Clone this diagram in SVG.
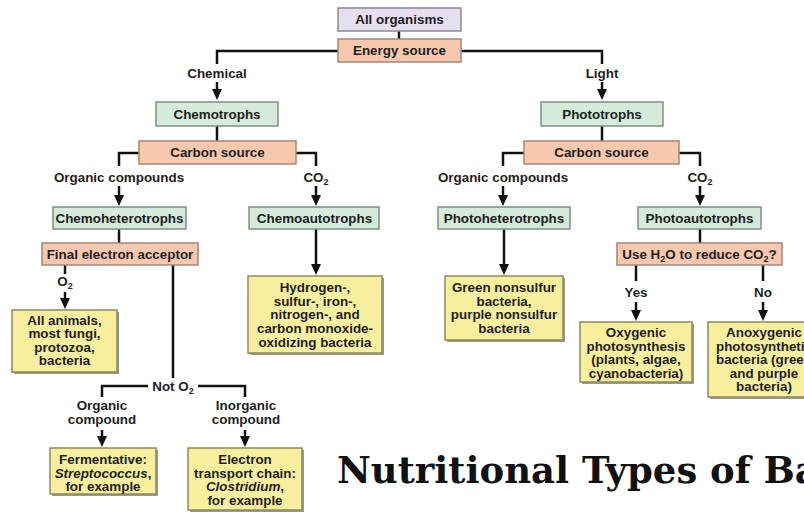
<svg xmlns="http://www.w3.org/2000/svg" width="804" height="512" viewBox="0 0 804 512">
<style>
text{font-family:"Liberation Sans",Arial,sans-serif;font-weight:bold;font-size:13.4px;fill:#1e1e1e;text-anchor:middle}
.sub{font-size:9px}
.lav{fill:#e5dfef;stroke:#8a8794;stroke-width:1.5}
.sal{fill:#f6c8ae;stroke:#a98474;stroke-width:1.5}
.grn{fill:#d4eadb;stroke:#7f8f86;stroke-width:1.5}
.yel{fill:#f7ef9e;stroke:#8c8a5c;stroke-width:1.5}
.shd{fill:#9c9a8e}
.ln{fill:none;stroke:#111;stroke-width:2.5}
.title{font-family:"DejaVu Serif","Liberation Serif",serif;font-size:37px;text-anchor:start;fill:#111}
</style>
<defs>
<marker id="ah" viewBox="0 0 11 10" refX="3" refY="5" markerWidth="11" markerHeight="10" markerUnits="userSpaceOnUse" orient="auto">
<path d="M0,0 L11,5 L0,10 z" fill="#111"/>
</marker>
</defs>
<rect width="804" height="512" fill="#ffffff"/>
<g id="connectors">
<path class="ln" d="M399,31 V39"/>
<path class="ln" d="M338,51 H217 V64"/>
<path class="ln" d="M461,51 H602 V64"/>
<path class="ln" d="M217,82 V92" marker-end="url(#ah)"/>
<path class="ln" d="M602,82 V92" marker-end="url(#ah)"/>
<path class="ln" d="M217,126 V141"/>
<path class="ln" d="M602,126 V141"/>
<path class="ln" d="M139,153 H119 V166"/>
<path class="ln" d="M296,153 H316 V166"/>
<path class="ln" d="M524,153 H503 V166"/>
<path class="ln" d="M679,153 H700 V166"/>
<path class="ln" d="M119,186 V198" marker-end="url(#ah)"/>
<path class="ln" d="M316,186 V198" marker-end="url(#ah)"/>
<path class="ln" d="M503,186 V198" marker-end="url(#ah)"/>
<path class="ln" d="M700,186 V198" marker-end="url(#ah)"/>
<path class="ln" d="M119,229 V243"/>
<path class="ln" d="M700,229 V243"/>
<path class="ln" d="M65,265 V274"/>
<path class="ln" d="M65,292 V301" marker-end="url(#ah)"/>
<path class="ln" d="M173,265 V378"/>
<path class="ln" d="M148,386 H102 V397"/>
<path class="ln" d="M198,386 H245 V397"/>
<path class="ln" d="M102,430 V439" marker-end="url(#ah)"/>
<path class="ln" d="M245,430 V439" marker-end="url(#ah)"/>
<path class="ln" d="M316,229 V267" marker-end="url(#ah)"/>
<path class="ln" d="M504,229 V267" marker-end="url(#ah)"/>
<path class="ln" d="M636,265 V281"/>
<path class="ln" d="M636,302 V313" marker-end="url(#ah)"/>
<path class="ln" d="M763,265 V281"/>
<path class="ln" d="M763,302 V313" marker-end="url(#ah)"/>
<text x="217" y="77.5">Chemical</text>
<text x="602" y="77.5">Light</text>
<text x="119" y="181.5">Organic compounds</text>
<text x="316" y="181.5">CO<tspan class="sub" dy="3">2</tspan></text>
<text x="503" y="181.5">Organic compounds</text>
<text x="700" y="181.5">CO<tspan class="sub" dy="3">2</tspan></text>
<text x="65" y="286">O<tspan class="sub" dy="3">2</tspan></text>
<text x="636" y="296.5">Yes</text>
<text x="763" y="296.5">No</text>
<text x="173" y="391">Not O<tspan class="sub" dy="3">2</tspan></text>
<text x="102" y="410">Organic</text>
<text x="102" y="424">compound</text>
<text x="246" y="410">Inorganic</text>
<text x="246" y="424">compound</text>
</g>
<g id="all-organisms"><rect class="lav" x="338" y="8" width="123" height="23"/><text x="399.5" y="24">All organisms</text></g>
<g id="energy-source"><rect class="sal" x="338" y="39" width="123" height="23"/><text x="399.5" y="55">Energy source</text></g>
<g id="chemotrophs"><rect class="grn" x="156" y="102" width="122" height="24"/><text x="217" y="118.5">Chemotrophs</text></g>
<g id="phototrophs"><rect class="grn" x="541" y="102" width="122" height="24"/><text x="602" y="118.5">Phototrophs</text></g>
<g id="carbon-source-chemo"><rect class="sal" x="139" y="141" width="157" height="23"/><text x="217.5" y="157">Carbon source</text></g>
<g id="carbon-source-photo"><rect class="sal" x="524" y="141" width="155" height="23"/><text x="601.5" y="157">Carbon source</text></g>
<g id="chemoheterotrophs"><rect class="grn" x="53" y="207" width="133" height="22"/><text x="119.5" y="222.5">Chemoheterotrophs</text></g>
<g id="chemoautotrophs"><rect class="grn" x="249" y="207" width="130" height="22"/><text x="314.5" y="222.5">Chemoautotrophs</text></g>
<g id="photoheterotrophs"><rect class="grn" x="438" y="207" width="132" height="22"/><text x="504" y="222.5">Photoheterotrophs</text></g>
<g id="photoautotrophs"><rect class="grn" x="638" y="207" width="123" height="22"/><text x="699.5" y="222.5">Photoautotrophs</text></g>
<g id="final-electron-acceptor"><rect class="sal" x="42" y="243" width="156" height="22"/><text x="120" y="258.5">Final electron acceptor</text></g>
<g id="use-h2o"><rect class="sal" x="617" y="243" width="165" height="22"/><text x="699.5" y="258.5">Use H<tspan class="sub" dy="3">2</tspan><tspan dy="-3">O to reduce CO</tspan><tspan class="sub" dy="3">2</tspan><tspan dy="-3">?</tspan></text></g>
<g id="all-animals"><rect class="shd" x="14" y="312" width="105" height="62"/><rect class="yel" x="12" y="310" width="105" height="62"/>
<text x="64.5" y="324.5">All animals,</text><text x="64.5" y="338">most fungi,</text><text x="64.5" y="351.5">protozoa,</text><text x="64.5" y="365">bacteria</text></g>
<g id="chemoautotroph-examples"><rect class="shd" x="250" y="278" width="134" height="77"/><rect class="yel" x="248" y="276" width="134" height="77"/>
<text x="315" y="292">Hydrogen-,</text><text x="315" y="305.7">sulfur-, iron-,</text><text x="315" y="319.4">nitrogen-, and</text><text x="315" y="333.1">carbon monoxide-</text><text x="315" y="346.8">oxidizing bacteria</text></g>
<g id="photoheterotroph-examples"><rect class="shd" x="447" y="278" width="118" height="64"/><rect class="yel" x="445" y="276" width="118" height="64"/>
<text x="504" y="292">Green nonsulfur</text><text x="504" y="305.7">bacteria,</text><text x="504" y="319.4">purple nonsulfur</text><text x="504" y="333.1">bacteria</text></g>
<g id="oxygenic"><rect class="shd" x="582" y="324" width="112" height="60"/><rect class="yel" x="580" y="322" width="112" height="60"/>
<text x="636" y="337">Oxygenic</text><text x="636" y="350.5">photosynthesis</text><text x="636" y="364">(plants, algae,</text><text x="636" y="377.5">cyanobacteria)</text></g>
<g id="anoxygenic"><rect class="shd" x="710" y="324" width="112" height="75"/><rect class="yel" x="708" y="322" width="112" height="75"/>
<text x="764" y="337">Anoxygenic</text><text x="764" y="350.5">photosynthetic</text><text x="764" y="364">bacteria (green</text><text x="764" y="377.5">and purple</text><text x="764" y="391">bacteria)</text></g>
<g id="fermentative"><rect class="shd" x="52" y="450" width="106" height="46"/><rect class="yel" x="50" y="448" width="106" height="46"/>
<text x="103" y="464">Fermentative:</text><text x="103" y="477.5"><tspan font-style="italic">Streptococcus</tspan>,</text><text x="103" y="491">for example</text></g>
<g id="electron-transport"><rect class="shd" x="190" y="450" width="114" height="62"/><rect class="yel" x="188" y="448" width="114" height="62"/>
<text x="245" y="464">Electron</text><text x="245" y="477.5">transport chain:</text><text x="245" y="491"><tspan font-style="italic">Clostridium</tspan>,</text><text x="245" y="504.5">for example</text></g>
<text class="title" x="337" y="483">Nutritional Types of Bacteria</text>
</svg>
